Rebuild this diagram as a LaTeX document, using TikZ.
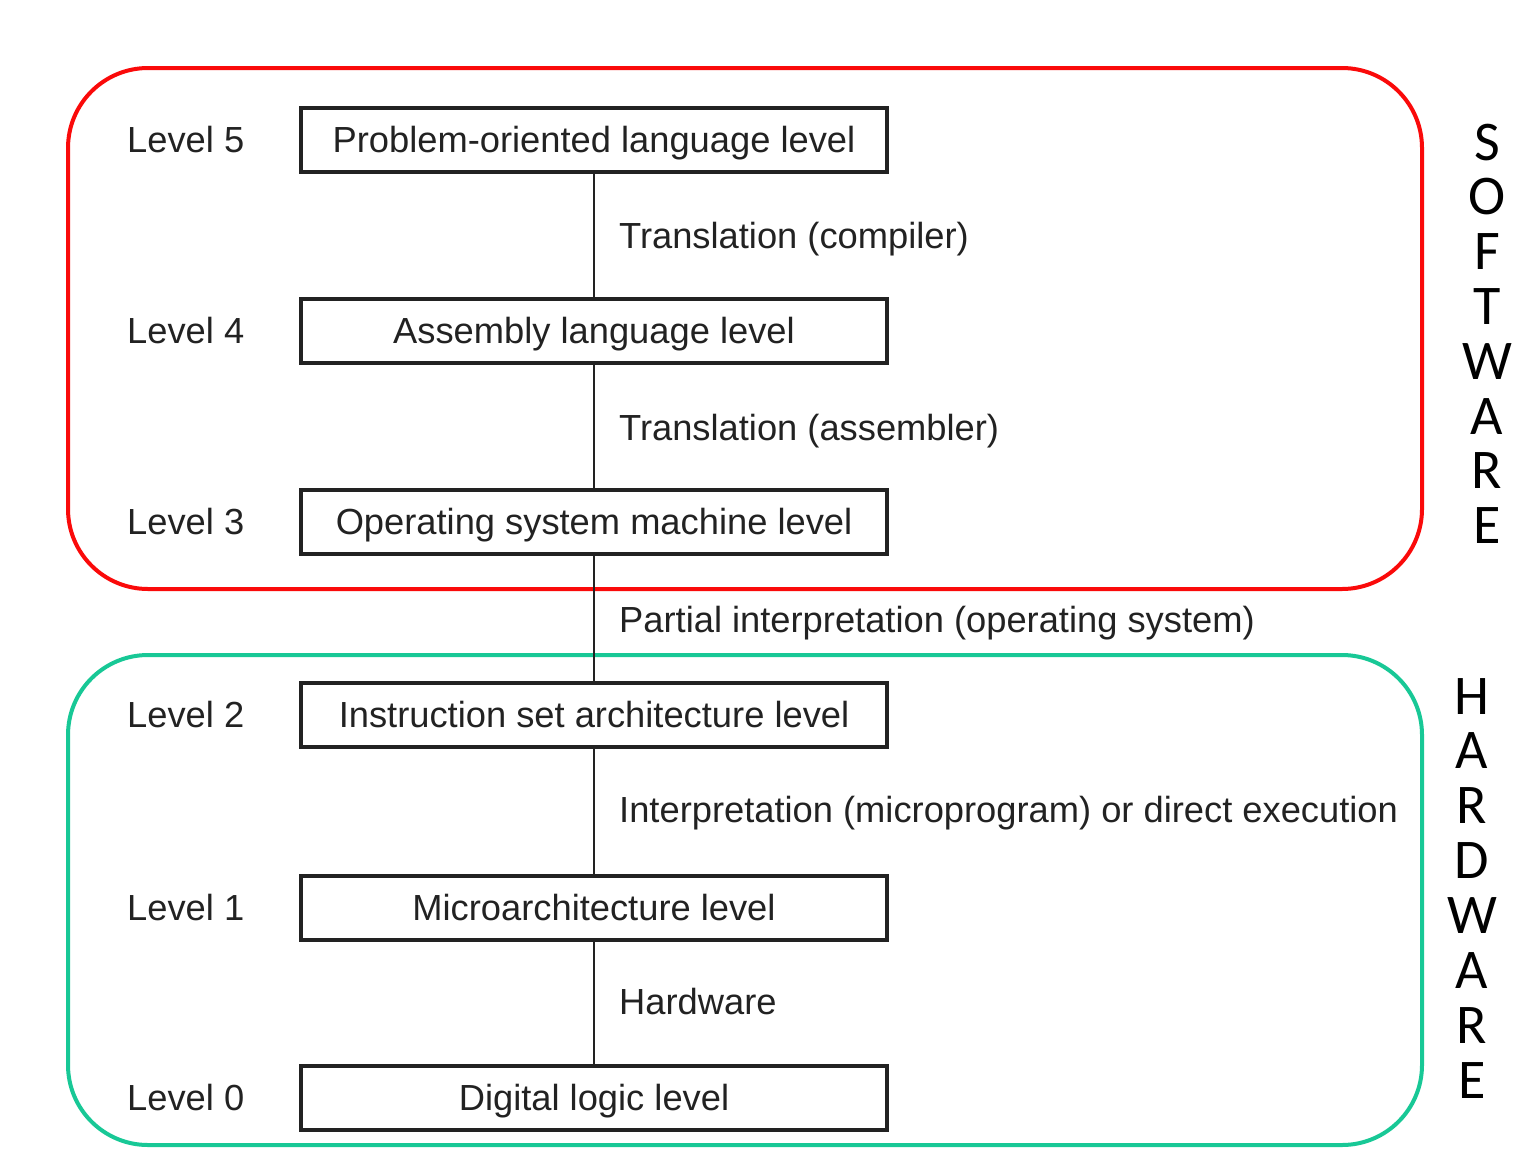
\documentclass[tikz,border=0pt]{standalone}
\usepackage{fontspec}
\setmainfont{Liberation Sans}
\newfontfamily\sidefont{Carlito}
\definecolor{swred}{RGB}{250,10,10}
\definecolor{hwgreen}{RGB}{24,200,150}
\definecolor{ink}{RGB}{34,34,34}
\begin{document}
\begin{tikzpicture}[x=1pt,y=-1pt,
  txt/.style={inner sep=0pt, text=ink, font=\fontsize{36.3}{42}\selectfont,
    text height=25.5pt, text depth=0pt},
  levelbox/.style={txt, draw=ink, line width=3.4pt, minimum width=586pt, minimum height=64pt},
  levelname/.style={txt, anchor=west},
  steplabel/.style={txt, anchor=west},
  link/.style={draw=ink, line width=2.8pt},
  groupframe/.style={line width=4pt, rounded corners=80pt},
  sideletter/.style={anchor=base, inner sep=0pt, text=black, font=\sidefont\fontsize{56}{60}\selectfont}
]
\useasboundingbox (0,0) rectangle (1530,1156);

% software / hardware frames
\draw[groupframe, draw=swred] (68,68) rectangle (1422,589);
\draw[groupframe, draw=hwgreen] (68,655) rectangle (1422,1145);

% level boxes
\node[levelbox] (l5) at (594,140) {Problem-oriented language level};
\node[levelbox] (l4) at (594,331) {Assembly language level};
\node[levelbox] (l3) at (594,522) {Operating system machine level};
\node[levelbox] (l2) at (594,715) {Instruction set architecture level};
\node[levelbox] (l1) at (594,908) {Microarchitecture level};
\node[levelbox] (l0) at (594,1098) {Digital logic level};

% level numbers
\node[levelname] (n5) at (127,140) {Level 5};
\node[levelname] (n4) at (127,331) {Level 4};
\node[levelname] (n3) at (127,522) {Level 3};
\node[levelname] (n2) at (127,715) {Level 2};
\node[levelname] (n1) at (127,908) {Level 1};
\node[levelname] (n0) at (127,1098) {Level 0};

% connections between levels
\draw[link] (l5.south) -- (l4.north);
\draw[link] (l4.south) -- (l3.north);
\draw[link] (l3.south) -- (l2.north);
\draw[link] (l2.south) -- (l1.north);
\draw[link] (l1.south) -- (l0.north);

% how each level is realised
\node[steplabel] (t54) at (619,236) {Translation (compiler)};
\node[steplabel] (t43) at (619,428) {Translation (assembler)};
\node[steplabel] (t32) at (619,620) {Partial interpretation (operating system)};
\node[steplabel] (t21) at (619,810) {Interpretation (microprogram) or direct execution};
\node[steplabel] (t10) at (619,1002) {Hardware};

% vertical side titles
\foreach \ch [count=\i from 0] in {S,O,F,T,W,A,R,E}
  \node[sideletter] (sw\i) at (1487,{160+54.8*\i}) {\ch};
\foreach \ch [count=\i from 0] in {H,A,R,D,W,A,R,E}
  \node[sideletter] (hw\i) at (1472,{714+54.9*\i}) {\ch};
\end{tikzpicture}
\end{document}
